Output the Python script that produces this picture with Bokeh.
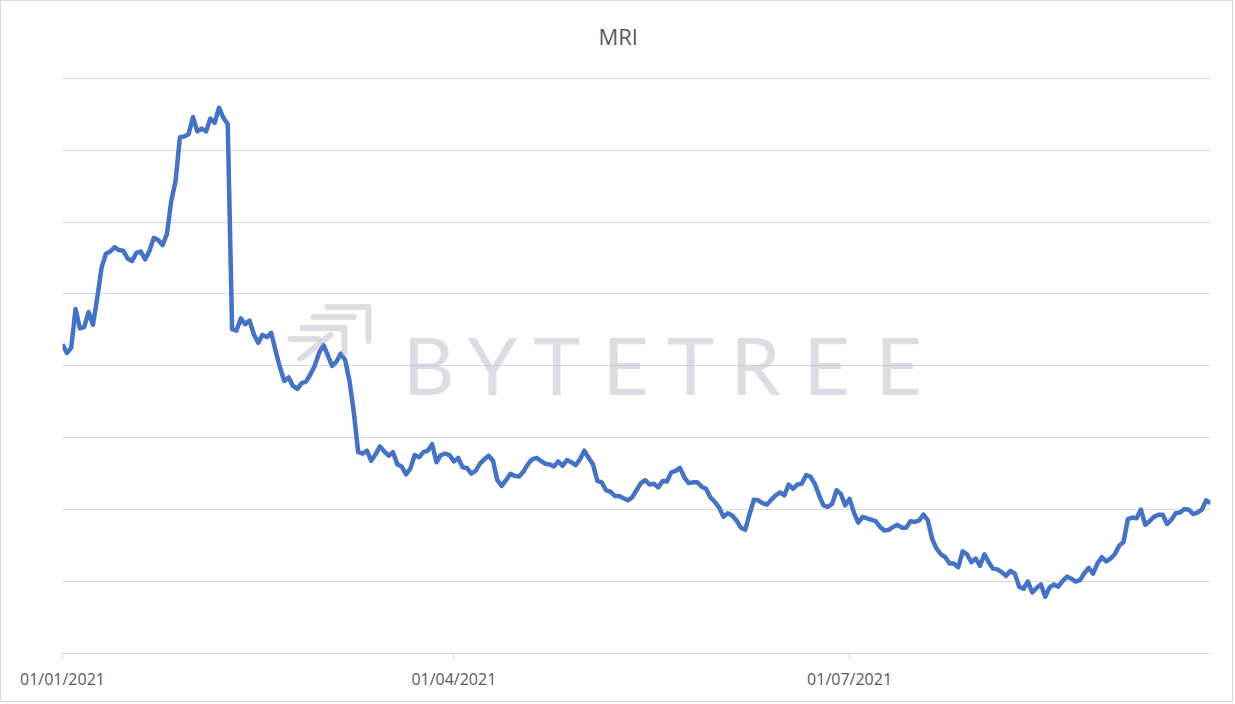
import pandas as pd
from bokeh.plotting import figure
from bokeh.models import FixedTicker, DatetimeTickFormatter, Range1d, Title
from bokeh.core.properties import value
from bokeh.embed import file_html
from bokeh.resources import INLINE

# Daily MRI readings, 1 Jan 2021 - 22 Sep 2021
start_date = "2021-01-01"
end_date = "2021-09-22"
mri = [
    4.30, 4.18, 4.25, 4.79, 4.52, 4.54, 4.75, 4.57, 4.95, 5.37,
    5.56, 5.59, 5.65, 5.61, 5.60, 5.49, 5.46, 5.57, 5.59, 5.48,
    5.60, 5.78, 5.75, 5.68, 5.83, 6.29, 6.57, 7.18, 7.19, 7.22,
    7.46, 7.26, 7.30, 7.26, 7.44, 7.38, 7.59, 7.45, 7.36, 4.51,
    4.49, 4.66, 4.58, 4.63, 4.44, 4.32, 4.43, 4.40, 4.46, 4.21,
    3.98, 3.79, 3.84, 3.72, 3.68, 3.76, 3.78, 3.88, 4.00, 4.18,
    4.29, 4.15, 4.00, 4.06, 4.17, 4.08, 3.79, 3.35, 2.80, 2.78,
    2.82, 2.68, 2.77, 2.88, 2.81, 2.75, 2.80, 2.63, 2.60, 2.49,
    2.57, 2.76, 2.73, 2.80, 2.82, 2.91, 2.66, 2.76, 2.78, 2.76,
    2.67, 2.72, 2.59, 2.58, 2.50, 2.54, 2.64, 2.70, 2.75, 2.68,
    2.41, 2.33, 2.41, 2.50, 2.47, 2.46, 2.53, 2.63, 2.70, 2.72,
    2.68, 2.64, 2.63, 2.60, 2.67, 2.61, 2.69, 2.66, 2.62, 2.70,
    2.82, 2.72, 2.63, 2.40, 2.38, 2.27, 2.25, 2.19, 2.19, 2.16,
    2.13, 2.17, 2.27, 2.37, 2.41, 2.35, 2.36, 2.31, 2.40, 2.39,
    2.52, 2.54, 2.58, 2.45, 2.37, 2.38, 2.38, 2.32, 2.29, 2.17,
    2.11, 2.03, 1.90, 1.95, 1.92, 1.85, 1.75, 1.72, 1.94, 2.14,
    2.13, 2.09, 2.07, 2.14, 2.20, 2.24, 2.20, 2.35, 2.29, 2.35,
    2.36, 2.48, 2.46, 2.36, 2.20, 2.06, 2.04, 2.08, 2.27, 2.22,
    2.06, 2.15, 1.96, 1.82, 1.90, 1.88, 1.86, 1.84, 1.76, 1.71,
    1.72, 1.76, 1.79, 1.75, 1.75, 1.84, 1.83, 1.85, 1.93, 1.85,
    1.59, 1.46, 1.38, 1.34, 1.25, 1.25, 1.20, 1.42, 1.38, 1.27,
    1.32, 1.22, 1.38, 1.27, 1.18, 1.17, 1.13, 1.08, 1.15, 1.11,
    0.93, 0.90, 1.00, 0.85, 0.91, 0.96, 0.79, 0.92, 0.96, 0.93,
    1.01, 1.07, 1.04, 1.00, 1.02, 1.12, 1.19, 1.11, 1.25, 1.34,
    1.28, 1.32, 1.38, 1.50, 1.55, 1.87, 1.89, 1.88, 2.00, 1.79,
    1.84, 1.90, 1.93, 1.93, 1.80, 1.86, 1.95, 1.96, 2.01, 2.00,
    1.94, 1.96, 2.00, 2.13, 2.09,
]
tick_dates = ["2021-01-01", "2021-04-01", "2021-07-01"]
title_text = "MRI"
watermark_text = "BYTETREE"

dates = pd.date_range(start_date, end_date, freq="D")

def to_ms(ts):
    return pd.Timestamp(ts).value / 1e6

x0_ms, x1_ms = to_ms(dates[0]), to_ms(dates[-1])
Y_MAX = 8
FRAME_W, FRAME_H = 1148, 576

p = figure(
    width=1233, height=702,
    x_axis_type="datetime",
    x_range=Range1d(x0_ms, x1_ms), y_range=Range1d(0, Y_MAX + 0.01),
    y_axis_location=None,
    toolbar_location=None, output_backend="svg",
    min_border_left=61, min_border_right=24,
    min_border_top=76, min_border_bottom=50,
    background_fill_color="white", border_fill_color="white",
)
p.styles = {"border": "1px solid #D9D9D9"}
p.outline_line_color = None

# blank band between the plot area and the title
p.add_layout(Title(text=" ", text_font_size="10px", standoff=14), "above")
# title sits over the middle of the whole chart, not of the plot area
p.add_layout(Title(
    text=title_text, align="left", offset=536, standoff=0,
    text_font="Open Sans", text_font_size="22px", text_font_style="normal",
    text_color="#595959",
), "above")

# horizontal gridlines only
p.xgrid.visible = False
p.ygrid.ticker = FixedTicker(ticks=list(range(1, Y_MAX + 1)))
p.ygrid.grid_line_color = "#D9D9D9"
p.ygrid.grid_line_width = 1

ax = p.xaxis[0]
ax.ticker = FixedTicker(ticks=[to_ms(d) for d in tick_dates])
fmt = "%d/%m/%Y"
ax.formatter = DatetimeTickFormatter(days=fmt, months=fmt, years=fmt)
ax.axis_line_color = "#D9D9D9"
ax.major_tick_line_color = "#D9D9D9"
ax.major_tick_in = 0
ax.major_tick_out = 6
ax.minor_tick_line_color = None
ax.major_label_text_font = "Open Sans"
ax.major_label_text_font_size = "16px"
ax.major_label_text_color = "#595959"
ax.major_label_standoff = 8

p.line(dates, mri, line_color="#4472C4", line_width=4.5, line_join="round")

# semi-transparent brand watermark laid over the chart
def wx(px):
    return x0_ms + (px / FRAME_W) * (x1_ms - x0_ms)

def wy(py):
    return Y_MAX - py / (FRAME_H / Y_MAX)

wm_color, wm_alpha = "#B8BBC6", 0.5
letter_centres = [366, 430, 494, 563, 628, 693, 764, 836]  # px from frame left
p.text(
    x=[wx(c) for c in letter_centres], y=[wy(286)] * len(watermark_text),
    text=list(watermark_text),
    text_align="center", text_baseline="alphabetic",
    text_font=value("Lato"), text_font_size="80px",
    text_color=wm_color, text_alpha=wm_alpha,
)
logo_strokes = [
    [(265, 229), (306, 229), (306, 263)],
    [(251, 239), (291, 239)],
    [(240, 250), (282, 250), (282, 275)],
    [(228, 261), (256, 261)],
    [(238, 281), (268, 257)],
]
p.multi_line(
    xs=[[wx(a) for a, _ in s] for s in logo_strokes],
    ys=[[wy(b) for _, b in s] for s in logo_strokes],
    line_color=wm_color, line_alpha=wm_alpha, line_width=6,
    line_cap="round", line_join="round",
)

open("out.html", "w").write(file_html(p, INLINE))
